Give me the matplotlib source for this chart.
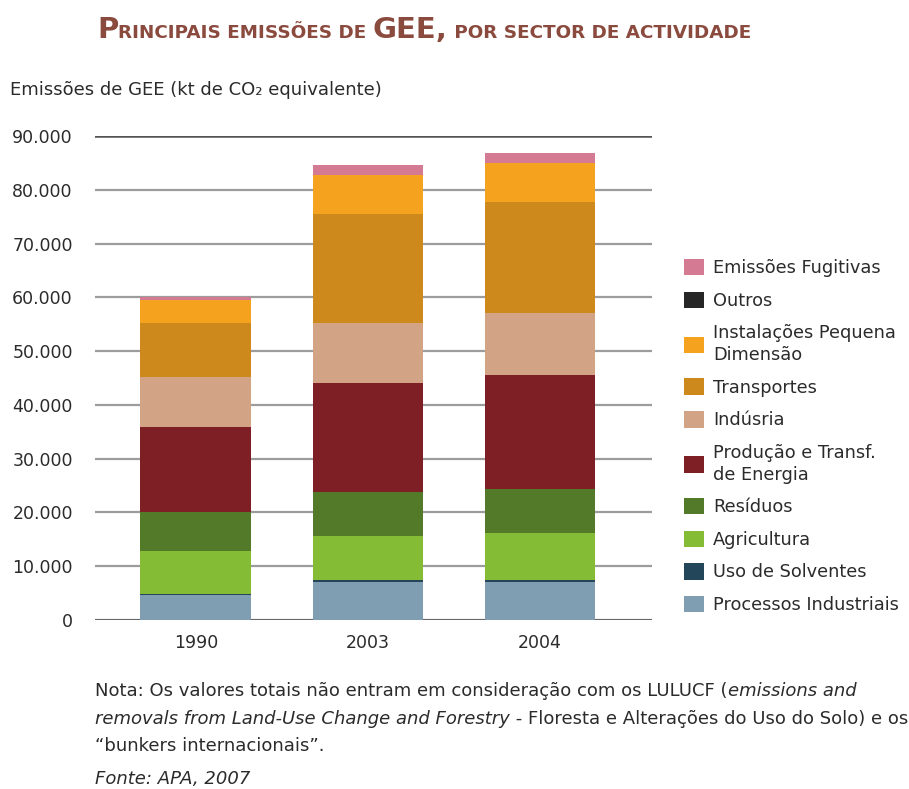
import numpy as np
import matplotlib.pyplot as plt
import matplotlib.ticker as ticker
from matplotlib.patches import Patch

W, H = 909, 789

anos = ['1990', '2003', '2004']
processos = [4650, 7000, 7000]
solventes = [250, 400, 400]
agricultura = [7980, 8270, 8710]
residuos = [7250, 8180, 8240]
producao = [15690, 20260, 21190]
industria = [9290, 11040, 11470]
transportes = [10040, 20310, 20740]
instalacoes = [4330, 7250, 7250]
outros = [0, 0, 0]
fugitivas = [620, 1860, 1860]

series = [
    (processos, '#7f9eb1', 'Processos Industriais'),
    (solventes, '#23465a', 'Uso de Solventes'),
    (agricultura, '#84bd35', 'Agricultura'),
    (residuos, '#527a28', 'Resíduos'),
    (producao, '#7e1f26', 'Produção e Transf.\nde Energia'),
    (industria, '#d3a385', 'Indúsria'),
    (transportes, '#cd891c', 'Transportes'),
    (instalacoes, '#f5a31e', 'Instalações Pequena\nDimensão'),
    (outros, '#262626', 'Outros'),
    (fugitivas, '#d47a92', 'Emissões Fugitivas'),
]

plt.rcParams['font.family'] = ['DejaVu Sans']
TXT = '#2b2b2b'

fig = plt.figure(figsize=(W / 100, H / 100), dpi=100)
ax = fig.add_axes([95 / W, 1 - 620 / H, 557 / W, 484 / H])

x = np.arange(len(anos))
bottom = np.zeros(len(anos))
for vals, color, label in series:
    ax.bar(x, vals, 0.645, bottom=bottom, color=color, linewidth=0, zorder=3)
    bottom += np.array(vals)

ax.set_xlim(-0.587, 2.651)
ax.set_ylim(0, 90000)
ax.yaxis.set_major_locator(ticker.MultipleLocator(10000))
ax.yaxis.set_major_formatter(ticker.FuncFormatter(
    lambda v, p: '0' if v == 0 else '{:,.0f}'.format(v).replace(',', '.')))
ax.set_xticks(x)
ax.set_xticklabels(anos)
ax.grid(axis='y', color='#9c9c9c', linewidth=1.6, zorder=0)
ax.set_axisbelow(True)
ax.axhline(0, color='#555555', linewidth=1.8, zorder=1)
ax.axhline(90000, color='#555555', linewidth=1.8, zorder=1)
for s in ax.spines.values():
    s.set_visible(False)
ax.tick_params(axis='y', length=0, pad=16, labelsize=12.5, labelcolor=TXT)
ax.tick_params(axis='x', length=0, pad=10, labelsize=12.5, labelcolor=TXT)

handles = [Patch(facecolor=c, edgecolor='none', label=l) for _, c, l in series][::-1]
leg = fig.legend(handles=handles, loc='upper left', bbox_to_anchor=(684 / W, 1 - 259 / H),
                 frameon=False, fontsize=12.8, handlelength=1.15, handleheight=1.05,
                 handletextpad=0.5, labelspacing=0.8, borderpad=0, borderaxespad=0,
                 labelcolor=TXT)
for t in leg.get_texts():
    t.set_linespacing(1.3)

renderer = fig.canvas.get_renderer()


def runs(x0, y0, parts, color):
    # draw pieces of text one after another on a common baseline (pixel coords)
    xx = x0
    for s, kw in parts:
        fig.text(xx / W, 1 - y0 / H, s, color=color, va='baseline', **kw)
        a = fig.text(0, 0, s + '|', **kw)
        b = fig.text(0, 0, '|', **kw)
        xx += a.get_window_extent(renderer).width - b.get_window_extent(renderer).width
        a.remove()
        b.remove()


big = dict(fontsize=21, fontweight='bold')
small = dict(fontsize=13.2, fontweight='bold')
runs(97, 38, [('P', big), ('RINCIPAIS EMISSÕES DE ', small), ('GEE,', big),
              (' POR SECTOR DE ACTIVIDADE', small)], '#8b4a3e')

runs(10, 95, [('Emissões de GEE (kt de CO₂ equivalente)', dict(fontsize=13))], TXT)

nor = dict(fontsize=13)
ita = dict(fontsize=13, style='italic')
runs(95, 696, [('Nota: Os valores totais não entram em consideração com os LULUCF (', nor),
               ('emissions and', ita)], TXT)
runs(95, 724, [('removals from Land-Use Change and Forestry', ita),
               (' - Floresta e Alterações do Uso do Solo) e os', nor)], TXT)
runs(95, 751, [('“bunkers internacionais”.', nor)], TXT)
runs(95, 784, [('Fonte: APA, 2007', ita)], TXT)

fig.savefig('out.png', dpi=100)
